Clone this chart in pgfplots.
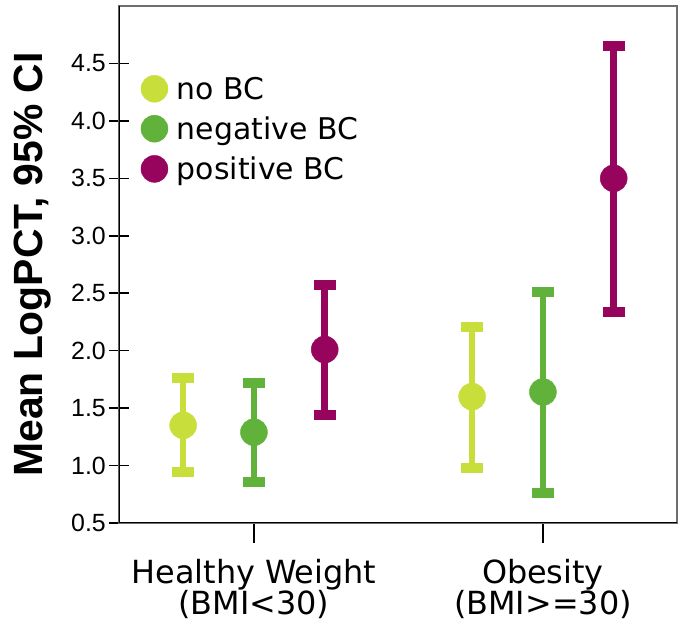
\documentclass[border=0pt]{standalone}
\usepackage{fontspec}
\setmainfont{DejaVu Sans}
\newfontfamily\arialf{Liberation Sans}
\usepackage{pgfplots}
\pgfplotsset{compat=1.18}
\definecolor{nobc}{RGB}{200,222,58}
\definecolor{negbc}{RGB}{96,178,58}
\definecolor{posbc}{RGB}{150,4,94}
\definecolor{framegray}{RGB}{110,110,110}
\begin{document}
\begin{tikzpicture}
\begin{axis}[
  scale only axis, width=558bp, height=517bp,
  xmin=-0.467, xmax=1.464, ymin=0.5, ymax=5.0,
  xtick={0,1},
  xticklabels={{Healthy Weight\\(BMI<30)},{Obesity\\(BMI>=30)}},
  xticklabel style={align=center, inner sep=0pt, font=\fontsize{32}{31}\selectfont, yshift=-16bp},
  ytick={0.5,1.0,1.5,2.0,2.5,3.0,3.5,4.0,4.5},
  /pgf/number format/fixed, /pgf/number format/fixed zerofill,
  /pgf/number format/precision=1, /pgf/number format/assume math mode=true,
  yticklabel style={font=\arialf\fontsize{25}{28}\selectfont, inner sep=0pt, xshift=-3bp},
  xtick pos=bottom, ytick pos=left,
  xtick align=outside, ytick align=center,
  major tick length=20bp,
  tick style={black, line width=1.6bp},
  axis line style={framegray, line width=1.4bp},
  ylabel={Mean LogPCT, 95\% CI},
  ylabel style={font=\arialf\bfseries\fontsize{41}{46}\selectfont, at={(axis description cs:-0.1219,0.5)}, anchor=south, inner sep=0pt},
  legend style={at={(axis description cs:0.039,0.867)}, anchor=north west, draw=none, fill=none,
    font=\fontsize{30}{34}\selectfont, inner sep=0pt, row sep=12bp, column sep=7bp},
  legend cell align=left,
]
\addlegendimage{only marks, mark=*, mark size=13.5bp, color=nobc}
\addlegendentry{no BC}
\addlegendimage{only marks, mark=*, mark size=13.5bp, color=negbc}
\addlegendentry{negative BC}
\addlegendimage{only marks, mark=*, mark size=13.5bp, color=posbc}
\addlegendentry{positive BC}

\addplot[forget plot, only marks, mark=*, mark size=13.5bp, color=nobc,
  error bars/.cd, y dir=both, y explicit, error mark=|,
  error bar style={line width=6.5bp, nobc},
  error mark options={line width=10bp, mark size=11bp, nobc}]
  coordinates {(-0.245,1.35) += (0,0.41) -= (0,0.41)
               (0.755,1.60) += (0,0.61) -= (0,0.62)};
\addplot[forget plot, only marks, mark=*, mark size=13.5bp, color=negbc,
  error bars/.cd, y dir=both, y explicit, error mark=|,
  error bar style={line width=6.5bp, negbc},
  error mark options={line width=10bp, mark size=11bp, negbc}]
  coordinates {(0,1.29) += (0,0.43) -= (0,0.43)
               (1,1.64) += (0,0.87) -= (0,0.88)};
\addplot[forget plot, only marks, mark=*, mark size=13.5bp, color=posbc,
  error bars/.cd, y dir=both, y explicit, error mark=|,
  error bar style={line width=6.5bp, posbc},
  error mark options={line width=10bp, mark size=11bp, posbc}]
  coordinates {(0.245,2.01) += (0,0.56) -= (0,0.57)
               (1.245,3.50) += (0,1.15) -= (0,1.16)};

\draw[black, line width=2.2bp] (rel axis cs:0,1) -- (rel axis cs:0,0) -- (rel axis cs:1,0);
\coordinate (O) at (rel axis cs:0,0);
\coordinate (T) at (rel axis cs:1,1);
\end{axis}
\pgfresetboundingbox
\path ([xshift=-119bp,yshift=-101bp]O) rectangle ([xshift=8bp,yshift=6bp]T);
\end{tikzpicture}
\end{document}
